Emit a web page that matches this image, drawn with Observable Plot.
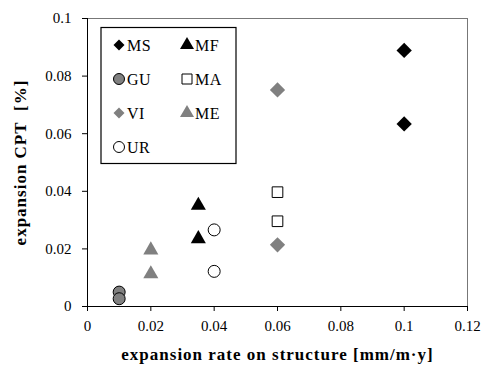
<!DOCTYPE html>
<html><head><meta charset="utf-8">
<script src="https://cdn.jsdelivr.net/npm/d3@7"></script>
<script src="https://cdn.jsdelivr.net/npm/@observablehq/plot@0.6"></script>
<style>body{margin:0;background:#fff}</style>
</head><body><div id="chart"></div>
<script>
// ---- data ----
const series = ["MS", "MF", "GU", "MA", "VI", "ME", "UR"];
const rateMS = [0.1, 0.1],     cptMS = [0.0889, 0.0634];
const rateMF = [0.035, 0.035], cptMF = [0.0351, 0.0235];
const rateGU = [0.01, 0.01],   cptGU = [0.0050, 0.0027];
const rateMA = [0.06, 0.06],   cptMA = [0.0397, 0.0296];
const rateVI = [0.06, 0.06],   cptVI = [0.0752, 0.0214];
const rateME = [0.02, 0.02],   cptME = [0.0196, 0.0113];
const rateUR = [0.04, 0.04],   cptUR = [0.0266, 0.0122];
const xTicks = [0, 0.02, 0.04, 0.06, 0.08, 0.1, 0.12];
const yTicks = [0, 0.02, 0.04, 0.06, 0.08, 0.1];
const xLabel = "expansion rate on structure [mm/m·y]";
const yLabel = "expansion CPT\u00a0 [%]";

const rates = {MS: rateMS, MF: rateMF, GU: rateGU, MA: rateMA, VI: rateVI, ME: rateME, UR: rateUR};
const cpts  = {MS: cptMS, MF: cptMF, GU: cptGU, MA: cptMA, VI: cptVI, ME: cptME, UR: cptUR};

// ---- styles ----
const FONT = "'Liberation Serif', 'Times New Roman', serif";
const gray = "#808080";
const styles = {
  MS: {symbol: "square", rotate: 45, fill: "black", stroke: "none", r: 6.1, lsize: 61},
  MF: {symbol: "triangle", rotate: 0, fill: "black", stroke: "none", r: 5.6, lsize: 85},
  GU: {symbol: "circle", rotate: 0, fill: gray, stroke: "black", r: 6, lsize: 95},
  MA: {symbol: "square", rotate: 0, fill: "white", stroke: "black", r: 6.0, lsize: 100},
  VI: {symbol: "square", rotate: 45, fill: gray, stroke: "none", r: 6.1, lsize: 61},
  ME: {symbol: "triangle", rotate: 0, fill: gray, stroke: "none", r: 5.6, lsize: 85},
  UR: {symbol: "circle", rotate: 0, fill: "white", stroke: "black", r: 6, lsize: 95}
};
const fmt = d => String(+d.toFixed(4));

const dotMarks = series.map(s => {
  const data = rates[s].map((x, i) => ({x, y: cpts[s][i]}));
  const st = styles[s];
  return Plot.dot(data, {x: "x", y: "y", symbol: st.symbol, rotate: st.rotate, r: st.r,
    fill: st.fill, stroke: st.stroke, strokeWidth: 1});
});

const chart = Plot.plot({
  width: 486, height: 369,
  marginLeft: 87, marginRight: 19, marginTop: 18, marginBottom: 63,
  style: {fontFamily: FONT, fontSize: "15px", color: "black", background: "white"},
  x: {domain: [0, 0.12]},
  y: {domain: [0, 0.1]},
  marks: [
    Plot.frame({stroke: "#777"}),
    Plot.axisX({ticks: xTicks, tickFormat: fmt, tickSize: 5, tickPadding: 9, label: xLabel,
      labelAnchor: "center", labelArrow: "none", labelOffset: 53, fontSize: 15}),
    Plot.axisY({ticks: yTicks, tickFormat: fmt, tickSize: 5, tickPadding: 11, label: yLabel,
      labelAnchor: "center", labelArrow: "none", labelOffset: 74, fontSize: 15}),
    Plot.ruleX([0], {stroke: "black"}),
    Plot.ruleY([0], {stroke: "black"}),
    ...dotMarks
  ]
});

const svg = d3.select(chart).attr("font-family", FONT);
svg.selectAll('[aria-label="x-axis label"] text, [aria-label="y-axis label"] text')
  .attr("font-weight", "bold").attr("font-size", 17).attr("letter-spacing", 1);

// ---- legend ----
const symMap = {square: d3.symbolSquare, triangle: d3.symbolTriangle, circle: d3.symbolCircle};
const lg = svg.append("g").attr("font-family", FONT).attr("font-size", 16).attr("text-anchor", "start");
lg.append("rect").attr("x", 101).attr("y", 27.5).attr("width", 135).attr("height", 136)
  .attr("fill", "white").attr("stroke", "black").attr("stroke-width", 1.2);
series.forEach((s, i) => {
  const st = styles[s];
  const cx = 119 + (i % 2) * 68, cy = 45 + Math.floor(i / 2) * 34;
  lg.append("path")
    .attr("d", d3.symbol(symMap[st.symbol], st.lsize)())
    .attr("transform", `translate(${cx},${cy}) rotate(${st.rotate})`)
    .attr("fill", st.fill).attr("stroke", st.stroke).attr("stroke-width", 1);
  lg.append("text").attr("x", cx + 8).attr("y", cy).attr("dy", "0.35em").attr("letter-spacing", 0.5).text(s);
});

document.getElementById("chart").append(chart);
</script>
</body></html>
